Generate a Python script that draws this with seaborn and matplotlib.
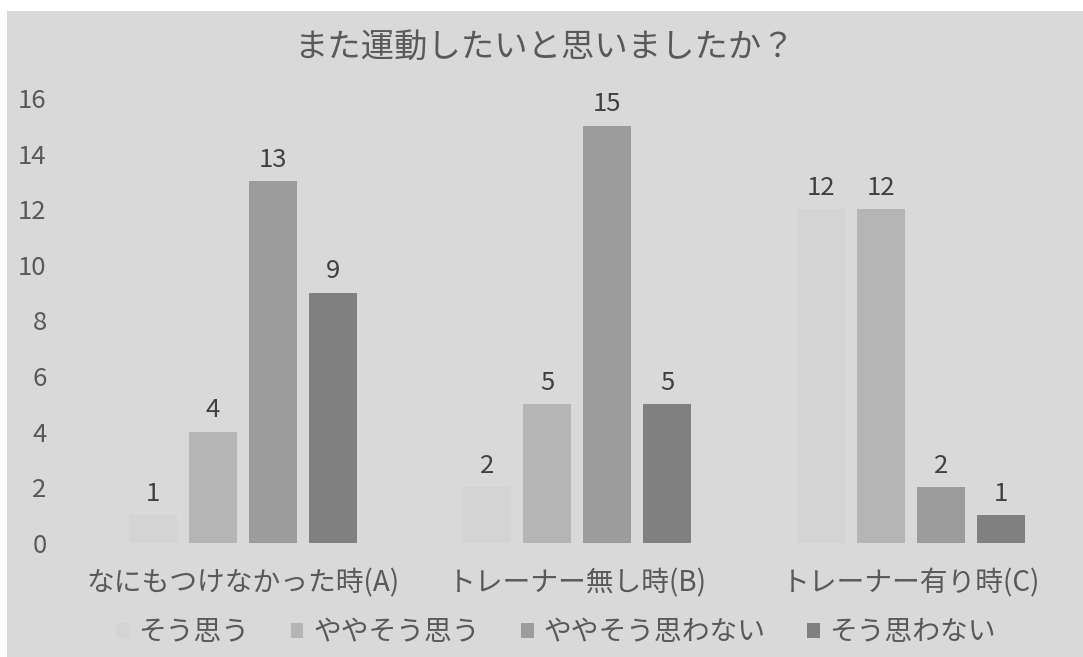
import matplotlib
matplotlib.use("Agg")
import matplotlib.pyplot as plt
import seaborn as sns
import pandas as pd
from matplotlib.patches import Rectangle

categories = ["なにもつけなかった時(A)", "トレーナー無し時(B)", "トレーナー有り時(C)"]
series = ["そう思う", "ややそう思う", "ややそう思わない", "そう思わない"]
vals_s1 = [1, 2, 12]
vals_s2 = [4, 5, 12]
vals_s3 = [13, 15, 2]
vals_s4 = [9, 5, 1]
colors = ["#d4d4d4", "#b5b5b5", "#9c9c9c", "#808080"]
yticks = [0, 2, 4, 6, 8, 10, 12, 14, 16]
title = "また運動したいと思いましたか？"

sns.set_theme(style="white")
plt.rcParams['font.family'] = ['Noto Sans CJK JP', 'DejaVu Sans']

rows = []
for s, vals in zip(series, [vals_s1, vals_s2, vals_s3, vals_s4]):
    for c, v in zip(categories, vals):
        rows.append({"cat": c, "series": s, "value": v})
df = pd.DataFrame(rows)

W, H = 1083, 657
fig = plt.figure(figsize=(W / 100, H / 100), dpi=100)
fig.patch.set_facecolor("white")
fig.patches.append(Rectangle((7 / W, 0), 1, 1 - 11 / H, transform=fig.transFigure,
                             facecolor="#d9d9d9", edgecolor="none", zorder=-10))

ax = fig.add_axes([75.8 / W, 1 - 543 / H, (1078.4 - 75.8) / W, (543 - 98) / H])
ax.set_facecolor("none")

sns.barplot(data=df, x="cat", y="value", hue="series", order=categories,
            hue_order=series, palette=colors, width=0.718, gap=0.2,
            linewidth=0, saturation=1, ax=ax, legend=True)

text_col = "#404040"
for cont in ax.containers:
    ax.bar_label(cont, padding=6, fontsize=18.5, color=text_col)

ax.set_ylim(0, 16)
ax.set_xlim(-0.5, 2.5)
ax.set_yticks(yticks)
ax.set_yticklabels([str(t) for t in yticks])
ax.set_xlabel("")
ax.set_ylabel("")
for sp in ax.spines.values():
    sp.set_visible(False)
ax.tick_params(axis="y", length=0, pad=21, labelsize=18.5, labelcolor="#595959")
ax.tick_params(axis="x", length=0, pad=18, labelsize=20, labelcolor="#595959")

handles, labels = ax.get_legend_handles_labels()
ax.get_legend().remove()
fig.legend(handles, labels, loc="center", bbox_to_anchor=(556 / W, 1 - 632 / H),
           ncol=4, frameon=False, fontsize=20, handlelength=0.45, handleheight=0.45,
           handletextpad=0.35, columnspacing=1.5, labelcolor="#595959")

fig.text(545 / W, 1 - 47 / H, title, ha="center", va="center", fontsize=24,
         color="#595959")

fig.savefig("out.png", dpi=100)
